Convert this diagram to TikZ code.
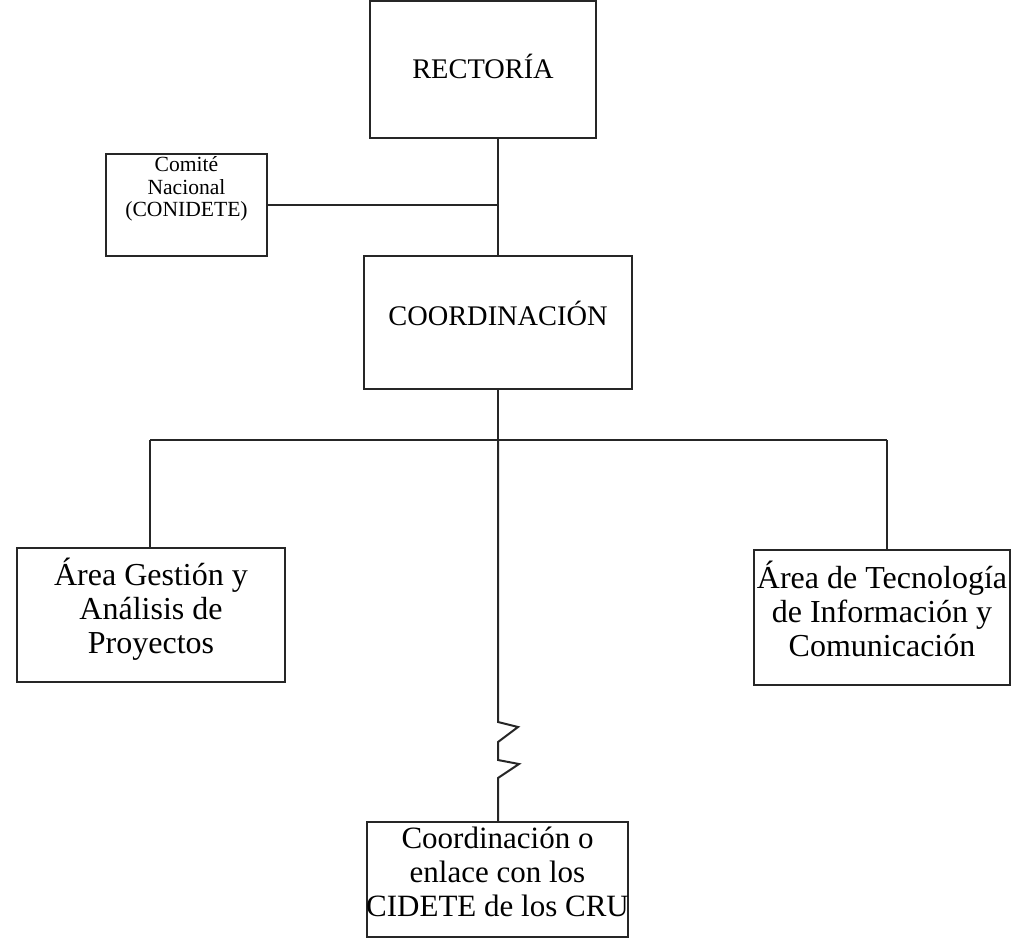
\documentclass[tikz,border=0pt]{standalone}
\usepackage{fontspec}
\setmainfont{Liberation Serif}
\begin{document}
\begin{tikzpicture}[x=0.5pt,y=-0.5pt,
  box/.style={draw=black!85, line width=1pt, inner sep=0pt, outer sep=0pt},
  txt/.style={align=center, inner sep=0pt},
  wire/.style={draw=black!85, line width=1pt},
  big/.style={font=\fontsize{16}{17}\selectfont},
  head/.style={font=\fontsize{14.2}{17}\selectfont},
  small/.style={font=\fontsize{10.8}{11.3}\selectfont}]
\useasboundingbox (0,0) rectangle (1011,938);

% boxes
\node[box, minimum width=113pt, minimum height=68.5pt] (rect) at (483,69.5) {};
\node[box, minimum width=80.5pt, minimum height=51pt] (comite) at (186.5,205) {};
\node[box, minimum width=134pt, minimum height=66.5pt] (coord) at (498,322.5) {};
\node[box, minimum width=134pt, minimum height=67pt] (gest) at (151,615) {};
\node[box, minimum width=128pt, minimum height=67.5pt] (tec) at (882,617.5) {};
\node[box, minimum width=130.5pt, minimum height=57.5pt] (cru) at (497.5,879.5) {};

% box texts
\node[txt, head, yshift=1.5pt] (recttxt) at (rect.center) {RECTORÍA};
\node[txt, small, yshift=8pt] (comitetxt) at (comite.center) {Comité\\Nacional\\(CONIDETE)};
\node[txt, head, yshift=4.5pt] (coordtxt) at (coord.center) {COORDINACIÓN};
\node[txt, big, yshift=3pt] (gesttxt) at (gest.center) {Área Gestión y\\Análisis de\\Proyectos};
\node[txt, big, yshift=4.5pt] (tectxt) at (tec.center) {Área de Tecnología\\de Información y\\Comunicación};
\node[txt, font=\fontsize{15.5}{17}\selectfont, yshift=4pt] (crutxt) at (cru.center) {Coordinación o\\enlace con los\\CIDETE de los CRU};

% junctions
\coordinate (bus) at (498,440);
\coordinate (jc) at (comite.east -| bus);
\coordinate (busl) at (150,440);
\coordinate (busr) at (887,440);

% connectors
\draw[wire] (coord.north |- rect.south) -- (coord.north);
\draw[wire] (comite.east) -- (jc);
\draw[wire] (coord.south) -- (bus);
\draw[wire] (busl) -- (busr);
\draw[wire] (busl) -- (busl |- gest.north);
\draw[wire] (busr) -- (busr |- tec.north);
\draw[wire] (bus) -- (498,722) -- (518,727) -- (498,742) -- (498,760)
  -- (519,764) -- (498,778) -- (cru.north -| bus);
\end{tikzpicture}
\end{document}
